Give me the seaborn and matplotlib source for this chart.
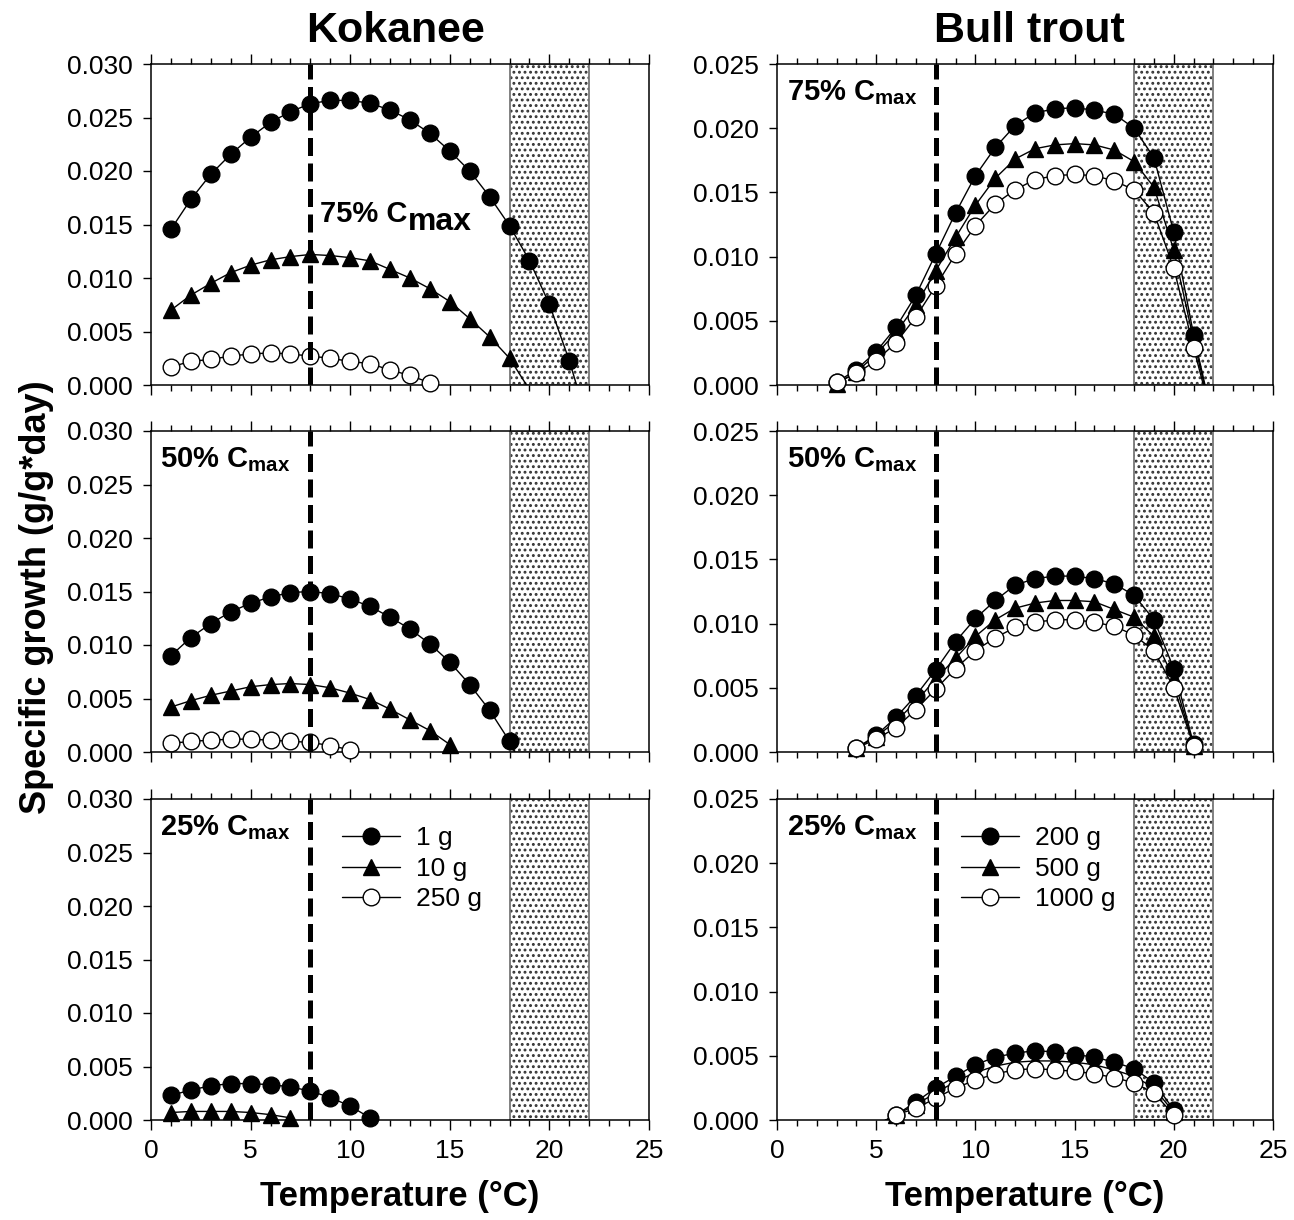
import numpy as np
import pandas as pd
import matplotlib
matplotlib.use("Agg")
import matplotlib.pyplot as plt
import seaborn as sns
from matplotlib.lines import Line2D
from matplotlib.ticker import MultipleLocator, FormatStrFormatter

# ---------------- data ----------------
# Kokanee (temps in deg C, specific growth g/g*day)
kok75_t_1g = list(range(1, 23))
kok75_1g = [0.01455, 0.01735, 0.01969, 0.02156, 0.02315, 0.02455, 0.02554, 0.02629, 0.0266, 0.0266,
            0.02633, 0.0257, 0.02477, 0.02352, 0.02187, 0.0200, 0.0176, 0.01489, 0.01162, 0.00754,
            0.00227, -0.0040]
kok75_t_10g = list(range(1, 20))
kok75_10g = [0.0070, 0.0084, 0.0095, 0.0105, 0.0112, 0.0117, 0.0120, 0.0122, 0.0121, 0.0119,
             0.0116, 0.0108, 0.0100, 0.0090, 0.0078, 0.0062, 0.0045, 0.0025, -0.00044]
kok75_t_250g = list(range(1, 15))
kok75_250g = [0.0017, 0.0022, 0.0024, 0.0027, 0.0029, 0.0030, 0.0029, 0.0027, 0.0025, 0.0022,
              0.0020, 0.0014, 0.0009, 0.0002]

kok50_t_1g = list(range(1, 20))
kok50_1g = [0.0090, 0.0107, 0.0120, 0.0131, 0.0139, 0.0145, 0.0149, 0.0150, 0.0148, 0.0143,
            0.0136, 0.0126, 0.0115, 0.0101, 0.0084, 0.0063, 0.0039, 0.0010, -0.0028]
kok50_t_10g = list(range(1, 16))
kok50_10g = [0.0042, 0.0048, 0.0053, 0.0057, 0.0061, 0.0063, 0.0064, 0.0063, 0.0060, 0.0055,
             0.0049, 0.0040, 0.0030, 0.0020, 0.0007]
kok50_t_250g = list(range(1, 11))
kok50_250g = [0.0008, 0.0010, 0.0011, 0.0012, 0.0012, 0.0011, 0.0010, 0.0009, 0.0006, 0.0002]

kok25_t_1g = list(range(1, 12))
kok25_1g = [0.0023, 0.0028, 0.0032, 0.0034, 0.0034, 0.0033, 0.0031, 0.0027, 0.0021, 0.0013, 0.0002]
kok25_t_10g = list(range(1, 8))
kok25_10g = [0.0007, 0.0008, 0.0008, 0.0008, 0.0007, 0.0005, 0.0002]
kok25_t_250g = []
kok25_250g = []

# Bull trout
bt75_t = list(range(3, 23))
bt75_200g = [0.0002, 0.0012, 0.0026, 0.0045, 0.0070, 0.0102, 0.0134, 0.0163, 0.0185, 0.0202,
             0.0212, 0.0215, 0.0216, 0.0214, 0.0211, 0.0200, 0.0177, 0.0119, 0.0039, -0.0029]
bt75_500g = [0.0001, 0.0010, 0.0024, 0.0041, 0.0062, 0.0089, 0.0115, 0.0140, 0.0161, 0.0176,
             0.0184, 0.0187, 0.0188, 0.0187, 0.0183, 0.0174, 0.0154, 0.0105, 0.0035, -0.0030]
bt75_1000g = [0.0002, 0.0009, 0.0019, 0.0033, 0.0053, 0.0077, 0.0102, 0.0124, 0.0141, 0.0152,
              0.0160, 0.0163, 0.0164, 0.0163, 0.0159, 0.0152, 0.0134, 0.0091, 0.0029, -0.0030]

bt50_t = list(range(3, 23))
bt50_200g = [-0.0005, 0.0003, 0.0013, 0.0027, 0.0044, 0.0064, 0.0086, 0.0104, 0.0118, 0.0130,
             0.0135, 0.0137, 0.0137, 0.0135, 0.0131, 0.0122, 0.0103, 0.0065, 0.0006, -0.0040]
bt50_500g = [-0.0005, 0.0003, 0.0012, 0.0024, 0.0039, 0.0057, 0.0073, 0.0090, 0.0103, 0.0112,
             0.0116, 0.0118, 0.0118, 0.0117, 0.0111, 0.0105, 0.0090, 0.0057, 0.0005, -0.0040]
bt50_1000g = [-0.0005, 0.0003, 0.0010, 0.0019, 0.0033, 0.0049, 0.0065, 0.0079, 0.0089, 0.0097,
              0.0101, 0.0103, 0.0103, 0.0101, 0.0098, 0.0091, 0.0079, 0.0050, 0.0005, -0.0035]

bt25_t = list(range(5, 22))
bt25_200g = [-0.0004, 0.0004, 0.0014, 0.0025, 0.0034, 0.0043, 0.0049, 0.0052, 0.0054, 0.0053,
             0.0051, 0.0049, 0.0045, 0.0040, 0.0029, 0.0008, -0.0020]
bt25_500g = [-0.0004, 0.0004, 0.0012, 0.0021, 0.0030, 0.0037, 0.0042, 0.0045, 0.0046, 0.0046,
             0.0045, 0.0043, 0.0039, 0.0034, 0.0025, 0.0006, -0.0020]
bt25_1000g = [-0.0004, 0.0004, 0.0009, 0.0017, 0.0025, 0.0031, 0.0036, 0.0039, 0.0040, 0.0039,
              0.0038, 0.0036, 0.0033, 0.0029, 0.0021, 0.0004, -0.0020]

kok_labels = ["1 g", "10 g", "250 g"]
bt_labels = ["200 g", "500 g", "1000 g"]
ration_labels = ["75%", "50%", "25%"]
col_titles = ["Kokanee", "Bull trout"]
optimum_temp = 8
stress_range = (18, 22)

# ---------------- style ----------------
sns.set_theme(style="ticks")
plt.rcParams["font.family"] = ["Liberation Sans", "DejaVu Sans"]
plt.rcParams["mathtext.fontset"] = "custom"
plt.rcParams["mathtext.rm"] = "Liberation Sans"
plt.rcParams["mathtext.bf"] = "Liberation Sans:bold"
plt.rcParams["mathtext.it"] = "Liberation Sans:italic"
plt.rcParams["hatch.linewidth"] = 1.3
for k in ["text.color", "axes.labelcolor", "xtick.color", "ytick.color", "axes.edgecolor"]:
    plt.rcParams[k] = "black"

series_styles = [
    dict(marker="o", face="black"),
    dict(marker="^", face="black"),
    dict(marker="o", face="white"),
]
MS = 12

fig = plt.figure(figsize=(12.94, 12.2), dpi=100)
W, H = 1294, 1220
col_x = [(151, 649), (777, 1273)]
row_y = [(64, 385), (431, 752), (799, 1120)]


def draw_series(ax, temps, vals, style):
    if len(temps) == 0:
        return
    df = pd.DataFrame({"t": temps, "g": vals})
    sns.lineplot(data=df, x="t", y="g", ax=ax, color="black", lw=1.0,
                 sort=False, estimator=None, legend=False, zorder=3)
    vis = df[df["g"] >= 0]
    sns.lineplot(data=vis, x="t", y="g", ax=ax, color="black", linestyle="",
                 marker=style["marker"], markersize=MS,
                 markerfacecolor=style["face"], markeredgecolor="black",
                 markeredgewidth=1.0, sort=False, estimator=None, legend=False,
                 clip_on=False, zorder=4)


panels = {
    (0, 0): [(kok75_t_1g, kok75_1g), (kok75_t_10g, kok75_10g), (kok75_t_250g, kok75_250g)],
    (1, 0): [(kok50_t_1g, kok50_1g), (kok50_t_10g, kok50_10g), (kok50_t_250g, kok50_250g)],
    (2, 0): [(kok25_t_1g, kok25_1g), (kok25_t_10g, kok25_10g), (kok25_t_250g, kok25_250g)],
    (0, 1): [(bt75_t, bt75_200g), (bt75_t, bt75_500g), (bt75_t, bt75_1000g)],
    (1, 1): [(bt50_t, bt50_200g), (bt50_t, bt50_500g), (bt50_t, bt50_1000g)],
    (2, 1): [(bt25_t, bt25_200g), (bt25_t, bt25_500g), (bt25_t, bt25_1000g)],
}

for (r, c), series in panels.items():
    x0, x1 = col_x[c]
    y0, y1 = row_y[r]
    ax = fig.add_axes([x0 / W, 1 - y1 / H, (x1 - x0) / W, (y1 - y0) / H])
    ax.set_facecolor("white")

    # thermal stress band
    ax.axvspan(*stress_range, facecolor="white", edgecolor="#333333", hatch="...",
               lw=0, zorder=0.5)
    ax.axvspan(*stress_range, fill=False, edgecolor="#777777", lw=1.3, zorder=0.6)

    for (t, v), st in zip(series, series_styles):
        draw_series(ax, t, v, st)

    ax.axvline(optimum_temp, color="black", lw=3.6, ls=(0, (3.6, 1.5)),
               dash_capstyle="butt", zorder=5)

    ax.set_xlim(0, 25)
    ymax = 0.030 if c == 0 else 0.025
    ax.set_ylim(0, ymax)
    ax.xaxis.set_major_locator(MultipleLocator(5))
    ax.xaxis.set_minor_locator(MultipleLocator(1))
    ax.yaxis.set_major_locator(MultipleLocator(0.005))
    ax.yaxis.set_major_formatter(FormatStrFormatter("%.3f"))
    ax.tick_params(axis="x", which="both", direction="out", top=True, bottom=True,
                   width=1.0, colors="black", labelsize=19, pad=7,
                   labelbottom=(r == 2))
    ax.tick_params(axis="x", which="major", length=7)
    ax.tick_params(axis="x", which="minor", length=4)
    ax.tick_params(axis="y", which="major", direction="out", left=True, right=False,
                   length=6, width=1.0, colors="black", labelsize=19, pad=7)
    for s in ax.spines.values():
        s.set_visible(True)
        s.set_color("black")
        s.set_linewidth(1.1)
    ax.set_xlabel("")
    ax.set_ylabel("")

    # ration labels
    if (r, c) == (0, 0):
        main = ax.text(8.5, 0.0152, "75% C", fontsize=21, fontweight="bold",
                       va="baseline", ha="left", zorder=6)
        ax.annotate("max", xy=(1, 0), xycoords=main, xytext=(0, -6),
                    textcoords="offset points", fontsize=23, fontweight="bold",
                    va="bottom", ha="left")
    else:
        ax.text(0.018 if c == 0 else 0.02, 0.887,
                ration_labels[r] + r" C$_{\mathbf{max}}$",
                transform=ax.transAxes, fontsize=21, fontweight="bold",
                va="baseline", ha="left", zorder=6)

    if r == 2:
        ax.set_xlabel("Temperature (\u00b0C)", fontsize=25, fontweight="bold", labelpad=12)
        labels = kok_labels if c == 0 else bt_labels
        handles = [Line2D([], [], color="black", lw=1.0, marker=st["marker"], markersize=MS,
                          markerfacecolor=st["face"], markeredgecolor="black",
                          markeredgewidth=1.0) for st in series_styles]
        ax.legend(handles, labels, loc="upper left",
                  bbox_to_anchor=(0.384 if c == 0 else 0.371, 0.915),
                  frameon=False, fontsize=19, handlelength=2.2, handletextpad=0.6,
                  labelspacing=0.25, borderaxespad=0, borderpad=0)

fig.text(396 / W, 1 - 31 / H, col_titles[0], fontsize=31, fontweight="bold",
         ha="center", va="center")
fig.text(1029 / W, 1 - 31 / H, col_titles[1], fontsize=31, fontweight="bold",
         ha="center", va="center")
fig.text(37 / W, 1 - 597 / H, "Specific growth (g/g*day)", fontsize=26, fontweight="bold",
         rotation=90, ha="center", va="center")

fig.savefig("out.png", dpi=100, facecolor="white")
